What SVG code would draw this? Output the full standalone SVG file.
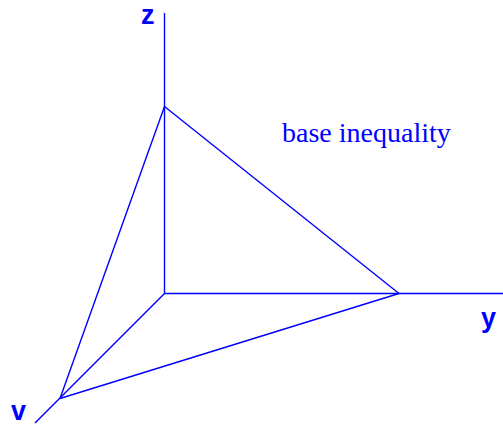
<svg xmlns="http://www.w3.org/2000/svg" width="503" height="425" viewBox="0 0 503 425">
<style>
.ln{stroke:#0000ff;stroke-width:1.4;fill:none}
.ax{font-family:"Liberation Sans",Arial,sans-serif;font-weight:bold;font-size:27px;fill:#0000ff}
.lb{font-family:"Liberation Serif","Times New Roman",serif;font-size:28px;fill:#0000ff}
</style>
<rect width="503" height="425" fill="#ffffff"/>
<g id="connectors">
<line class="ln" x1="164.5" y1="13" x2="164.5" y2="293.5"/>
<line class="ln" x1="164.5" y1="293.5" x2="503" y2="293.5"/>
<line class="ln" x1="164.5" y1="293.5" x2="35" y2="423"/>
<line class="ln" x1="164.5" y1="106.5" x2="399" y2="293.5"/>
<line class="ln" x1="399" y1="293.5" x2="60" y2="398.5"/>
<line class="ln" x1="60" y1="398.5" x2="164.5" y2="106.5"/>
</g>
<g id="z"><text class="ax" x="141" y="24">z</text></g>
<g id="y"><text class="ax" x="481" y="327">y</text></g>
<g id="v"><text class="ax" x="11" y="420">v</text></g>
<g id="label"><text class="lb" x="282" y="142">base inequality</text></g>
</svg>
